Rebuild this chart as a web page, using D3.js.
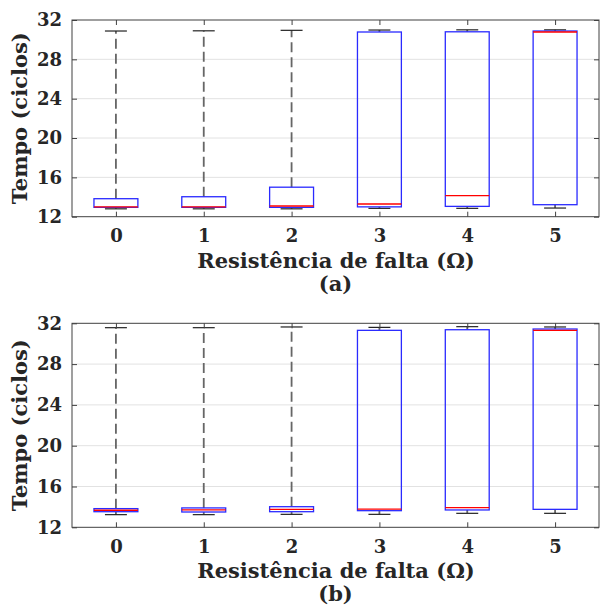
<!DOCTYPE html>
<html>
<head>
<meta charset="utf-8">
<script src="https://cdn.jsdelivr.net/npm/d3@7"></script>
<style>
  html, body { margin: 0; padding: 0; background: #fff; }
  svg { display: block; }
  text { font-family: "DejaVu Serif", serif; font-weight: bold; fill: #262626; }
</style>
</head>
<body>
<svg id="chart" width="600" height="610"></svg>
<script>
// Categories (fault resistance, ohms)
const categories = [0, 1, 2, 3, 4, 5];
const yTicks = [12, 16, 20, 24, 28, 32];

// Panel (a) box plot statistics
const aLow    = [12.80, 12.80, 12.80, 12.85, 12.85, 12.88];
const aQ1     = [12.95, 12.95, 12.95, 13.00, 13.05, 13.22];
const aMedian = [13.00, 13.00, 13.09, 13.29, 14.14, 30.78];
const aQ3     = [13.83, 14.03, 15.00, 30.78, 30.80, 30.88];
const aHigh   = [30.88, 30.90, 30.95, 30.98, 31.00, 31.00];

// Panel (b) box plot statistics
const bLow    = [13.24, 13.24, 13.27, 13.27, 13.37, 13.37];
const bQ1     = [13.53, 13.50, 13.53, 13.63, 13.70, 13.76];
const bMedian = [13.67, 13.70, 13.76, 13.79, 13.92, 31.31];
const bQ3     = [13.83, 13.90, 14.02, 31.31, 31.37, 31.44];
const bHigh   = [31.57, 31.57, 31.64, 31.60, 31.67, 31.64];

const xLabel = "Resistência de falta (Ω)";
const yLabel = "Tempo (ciclos)";

const svg = d3.select("#chart");

function panel(cfg) {
  const { top, bottom, left, right, low, q1, med, q3, high, caption } = cfg;
  const x = d3.scaleLinear().domain([-0.5, 5.5]).range([left, right]);
  const y = d3.scaleLinear().domain([12, 32]).range([bottom, top]);
  const g = svg.append("g");
  const boxW = x(0.25) - x(0);   // half width
  const capW = x(0.125) - x(0);

  // gridlines
  g.append("g").selectAll("line").data(yTicks.slice(1, -1)).join("line")
    .attr("x1", left).attr("x2", right)
    .attr("y1", d => y(d)).attr("y2", d => y(d))
    .attr("stroke", "#e2e2e2").attr("stroke-width", 1);

  const rows = categories.map((c, i) => ({ c, lo: low[i], q1: q1[i], md: med[i], q3: q3[i], hi: high[i] }));

  // whiskers (dashed)
  g.append("g").selectAll("line").data(rows).join("line")
    .attr("x1", d => x(d.c)).attr("x2", d => x(d.c))
    .attr("y1", d => y(d.q3)).attr("y2", d => y(d.hi))
    .attr("stroke", "#666").attr("stroke-width", 1.8).attr("stroke-dasharray", "10,5");
  g.append("g").selectAll("line").data(rows).join("line")
    .attr("x1", d => x(d.c)).attr("x2", d => x(d.c))
    .attr("y1", d => y(d.q1)).attr("y2", d => y(d.lo))
    .attr("stroke", "#666").attr("stroke-width", 1.8).attr("stroke-dasharray", "10,5");

  // caps
  ["hi", "lo"].forEach(k => {
    g.append("g").selectAll("line").data(rows).join("line")
      .attr("x1", d => x(d.c) - capW).attr("x2", d => x(d.c) + capW)
      .attr("y1", d => y(d[k])).attr("y2", d => y(d[k]))
      .attr("stroke", "#222").attr("stroke-width", 1.2);
  });

  // boxes
  g.append("g").selectAll("rect").data(rows).join("rect")
    .attr("x", d => x(d.c) - boxW).attr("width", 2 * boxW)
    .attr("y", d => y(d.q3)).attr("height", d => y(d.q1) - y(d.q3))
    .attr("fill", "none").attr("stroke", "#2a2aff").attr("stroke-width", 1.3);

  // medians
  g.append("g").selectAll("line").data(rows).join("line")
    .attr("x1", d => x(d.c) - boxW).attr("x2", d => x(d.c) + boxW)
    .attr("y1", d => y(d.md)).attr("y2", d => y(d.md))
    .attr("stroke", "#ff0000").attr("stroke-width", 1.3);

  // axes (inward ticks)
  const axL = g.append("g").attr("transform", `translate(${left},0)`)
    .call(d3.axisLeft(y).tickValues(yTicks).tickSize(-5).tickPadding(10).tickFormat(d3.format("d")));
  const axR = g.append("g").attr("transform", `translate(${right},0)`)
    .call(d3.axisRight(y).tickValues(yTicks).tickSize(-5).tickFormat(""));
  const axB = g.append("g").attr("transform", `translate(0,${bottom})`)
    .call(d3.axisBottom(x).tickValues(categories).tickSize(-5).tickPadding(13).tickFormat(d3.format("d")));
  const axT = g.append("g").attr("transform", `translate(0,${top})`)
    .call(d3.axisTop(x).tickValues(categories).tickSize(-5).tickFormat(""));
  [axL, axR, axB, axT].forEach(a => {
    a.select(".domain").remove();
    a.selectAll("line").attr("stroke", "#404040");
    a.selectAll("text").attr("font-family", "DejaVu Serif").attr("font-weight", "bold")
      .attr("font-size", 18).attr("fill", "#262626");
  });

  // frame
  g.append("rect").attr("x", left).attr("y", top)
    .attr("width", right - left).attr("height", bottom - top)
    .attr("fill", "none").attr("stroke", "#404040").attr("stroke-width", 1);

  // labels
  g.append("text").attr("x", (left + right) / 2 + 0.5).attr("y", bottom + 51)
    .attr("text-anchor", "middle").attr("font-size", 21).text(xLabel);
  g.append("text").attr("x", (left + right) / 2).attr("y", bottom + 74)
    .attr("text-anchor", "middle").attr("font-size", 21).text(caption);
  g.append("text")
    .attr("transform", `translate(27,${(top + bottom) / 2}) rotate(-90)`)
    .attr("text-anchor", "middle").attr("font-size", 21).text(yLabel);
}

panel({ top: 20, bottom: 216.7, left: 72, right: 599,
        low: aLow, q1: aQ1, med: aMedian, q3: aQ3, high: aHigh, caption: "(a)" });
panel({ top: 323.3, bottom: 527.3, left: 72, right: 599,
        low: bLow, q1: bQ1, med: bMedian, q3: bQ3, high: bHigh, caption: "(b)" });
</script>
</body>
</html>
